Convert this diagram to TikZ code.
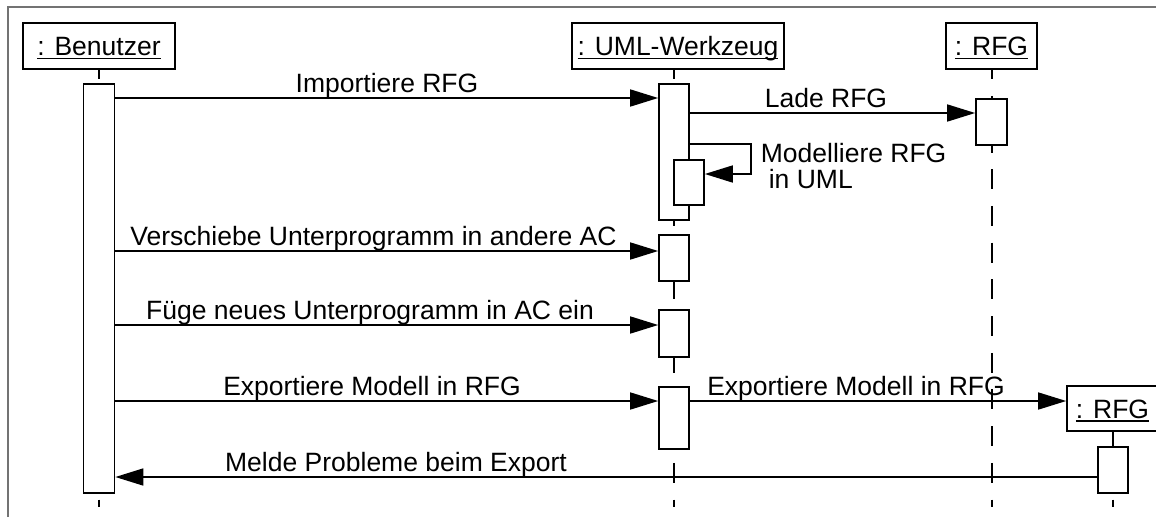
\documentclass[tikz,border=0pt]{standalone}
\usepackage{fontspec}
\setmainfont{Liberation Sans}
\usetikzlibrary{arrows.meta}
\newcommand\ulbl[1]{\setbox0\hbox{#1}\rlap{\rule[-3.6pt]{\wd0}{1.5pt}}\box0}
\begin{document}
\begin{tikzpicture}[x=1pt,y=-1pt, line width=1.7pt,
  font=\fontsize{26.5}{30}\selectfont,
  obj/.style={draw, fill=white, minimum height=46pt, inner sep=0pt, text height=19pt, text depth=0pt},
  act/.style={draw, fill=white, minimum width=30pt, inner sep=0pt, anchor=north},
  life/.style={dash pattern=on 20pt off 16.7pt},
  msg/.style={-{Triangle[length=28pt,width=17pt]}},
  lbl/.style={anchor=base, inner sep=0pt}]
\useasboundingbox (0,0) rectangle (1156,517);
% frame
\draw[black!55, line width=1.5pt] (8,517) -- (8,7) -- (1156,7);
% rows
\coordinate (rImp) at (0,98);
\coordinate (rLade) at (0,113);
\coordinate (rSelfA) at (0,144);
\coordinate (rSelfB) at (0,174);
\coordinate (rVer) at (0,251);
\coordinate (rFuege) at (0,325);
\coordinate (rExp) at (0,401);
\coordinate (rMelde) at (0,477);
% objects
\node[obj, minimum width=152pt] (ben) at (99,46) {\ulbl{: Benutzer}};
\node[obj, minimum width=212pt] (uml) at (678,46) {\ulbl{: UML-Werkzeug}};
\node[obj, minimum width=91pt] (rfg) at (991.5,46) {\ulbl{: RFG}};
% lifelines
\coordinate (lbEnd) at (99,507);
\coordinate (luEnd) at (674,507);
\coordinate (lrEnd) at (992,507);
\coordinate (lr2End) at (1113,507);
\draw[life, dash phase=10.7pt] (lbEnd |- ben.south) -- (lbEnd);
\draw[life, dash phase=10.7pt] (luEnd |- uml.south) -- (luEnd);
\draw[life, dash phase=10.7pt] (lrEnd |- rfg.south) -- (lrEnd);
\node[obj, minimum width=91pt, minimum height=45pt] (rfg2) at (1112.5,408.5) {\ulbl{: RFG}};
\draw[life, dash phase=5.7pt] (lr2End |- rfg2.south) -- (lr2End);
% activations
\node[act, minimum width=31pt, minimum height=409pt] (ba) at (99,83) {};
\node[act, minimum height=136pt] (u1) at (674,83) {};
\node[act, minimum height=45pt] (u1b) at (689,159) {};
\node[act, minimum height=46pt] (u2) at (674,234) {};
\node[act, minimum height=47pt] (u3) at (674,309) {};
\node[act, minimum height=62pt] (u4) at (674,386) {};
\node[act, minimum width=31pt, minimum height=46pt] (r1) at (991.5,98) {};
\node[act, minimum height=46pt] (r2) at (1113,446) {};
% messages
\draw[msg] (ba.east |- rImp) -- (u1.west |- rImp);
\node[lbl] (tImp) at (387,92) {Importiere RFG};
\draw[msg] (u1.east |- rLade) -- (r1.west |- rLade);
\node[lbl] (tLade) at (826,107) {Lade RFG};
\draw[msg] (u1.east |- rSelfA) -- ++(61,0) |- (u1b.east |- rSelfB);
\node[lbl, anchor=base west] (tMod1) at (760,162) {Modelliere RFG};
\node[lbl, anchor=base west] (tMod2) at (768,188) {in UML};
\draw[msg] (ba.east |- rVer) -- (u2.west |- rVer);
\node[lbl] (tVer) at (373.5,245) {Verschiebe Unterprogramm in andere AC};
\draw[msg] (ba.east |- rFuege) -- (u3.west |- rFuege);
\node[lbl] (tFue) at (370,319) {Füge neues Unterprogramm in AC ein};
\draw[msg] (ba.east |- rExp) -- (u4.west |- rExp);
\node[lbl] (tExp1) at (372,395) {Exportiere Modell in RFG};
\draw[msg] (u4.east |- rExp) -- (rfg2.west |- rExp);
\node[lbl] (tExp2) at (856,395) {Exportiere Modell in RFG};
\draw[msg] (r2.west |- rMelde) -- (ba.east |- rMelde);
\node[lbl] (tMel) at (396,471) {Melde Probleme beim Export};
\end{tikzpicture}
\end{document}
